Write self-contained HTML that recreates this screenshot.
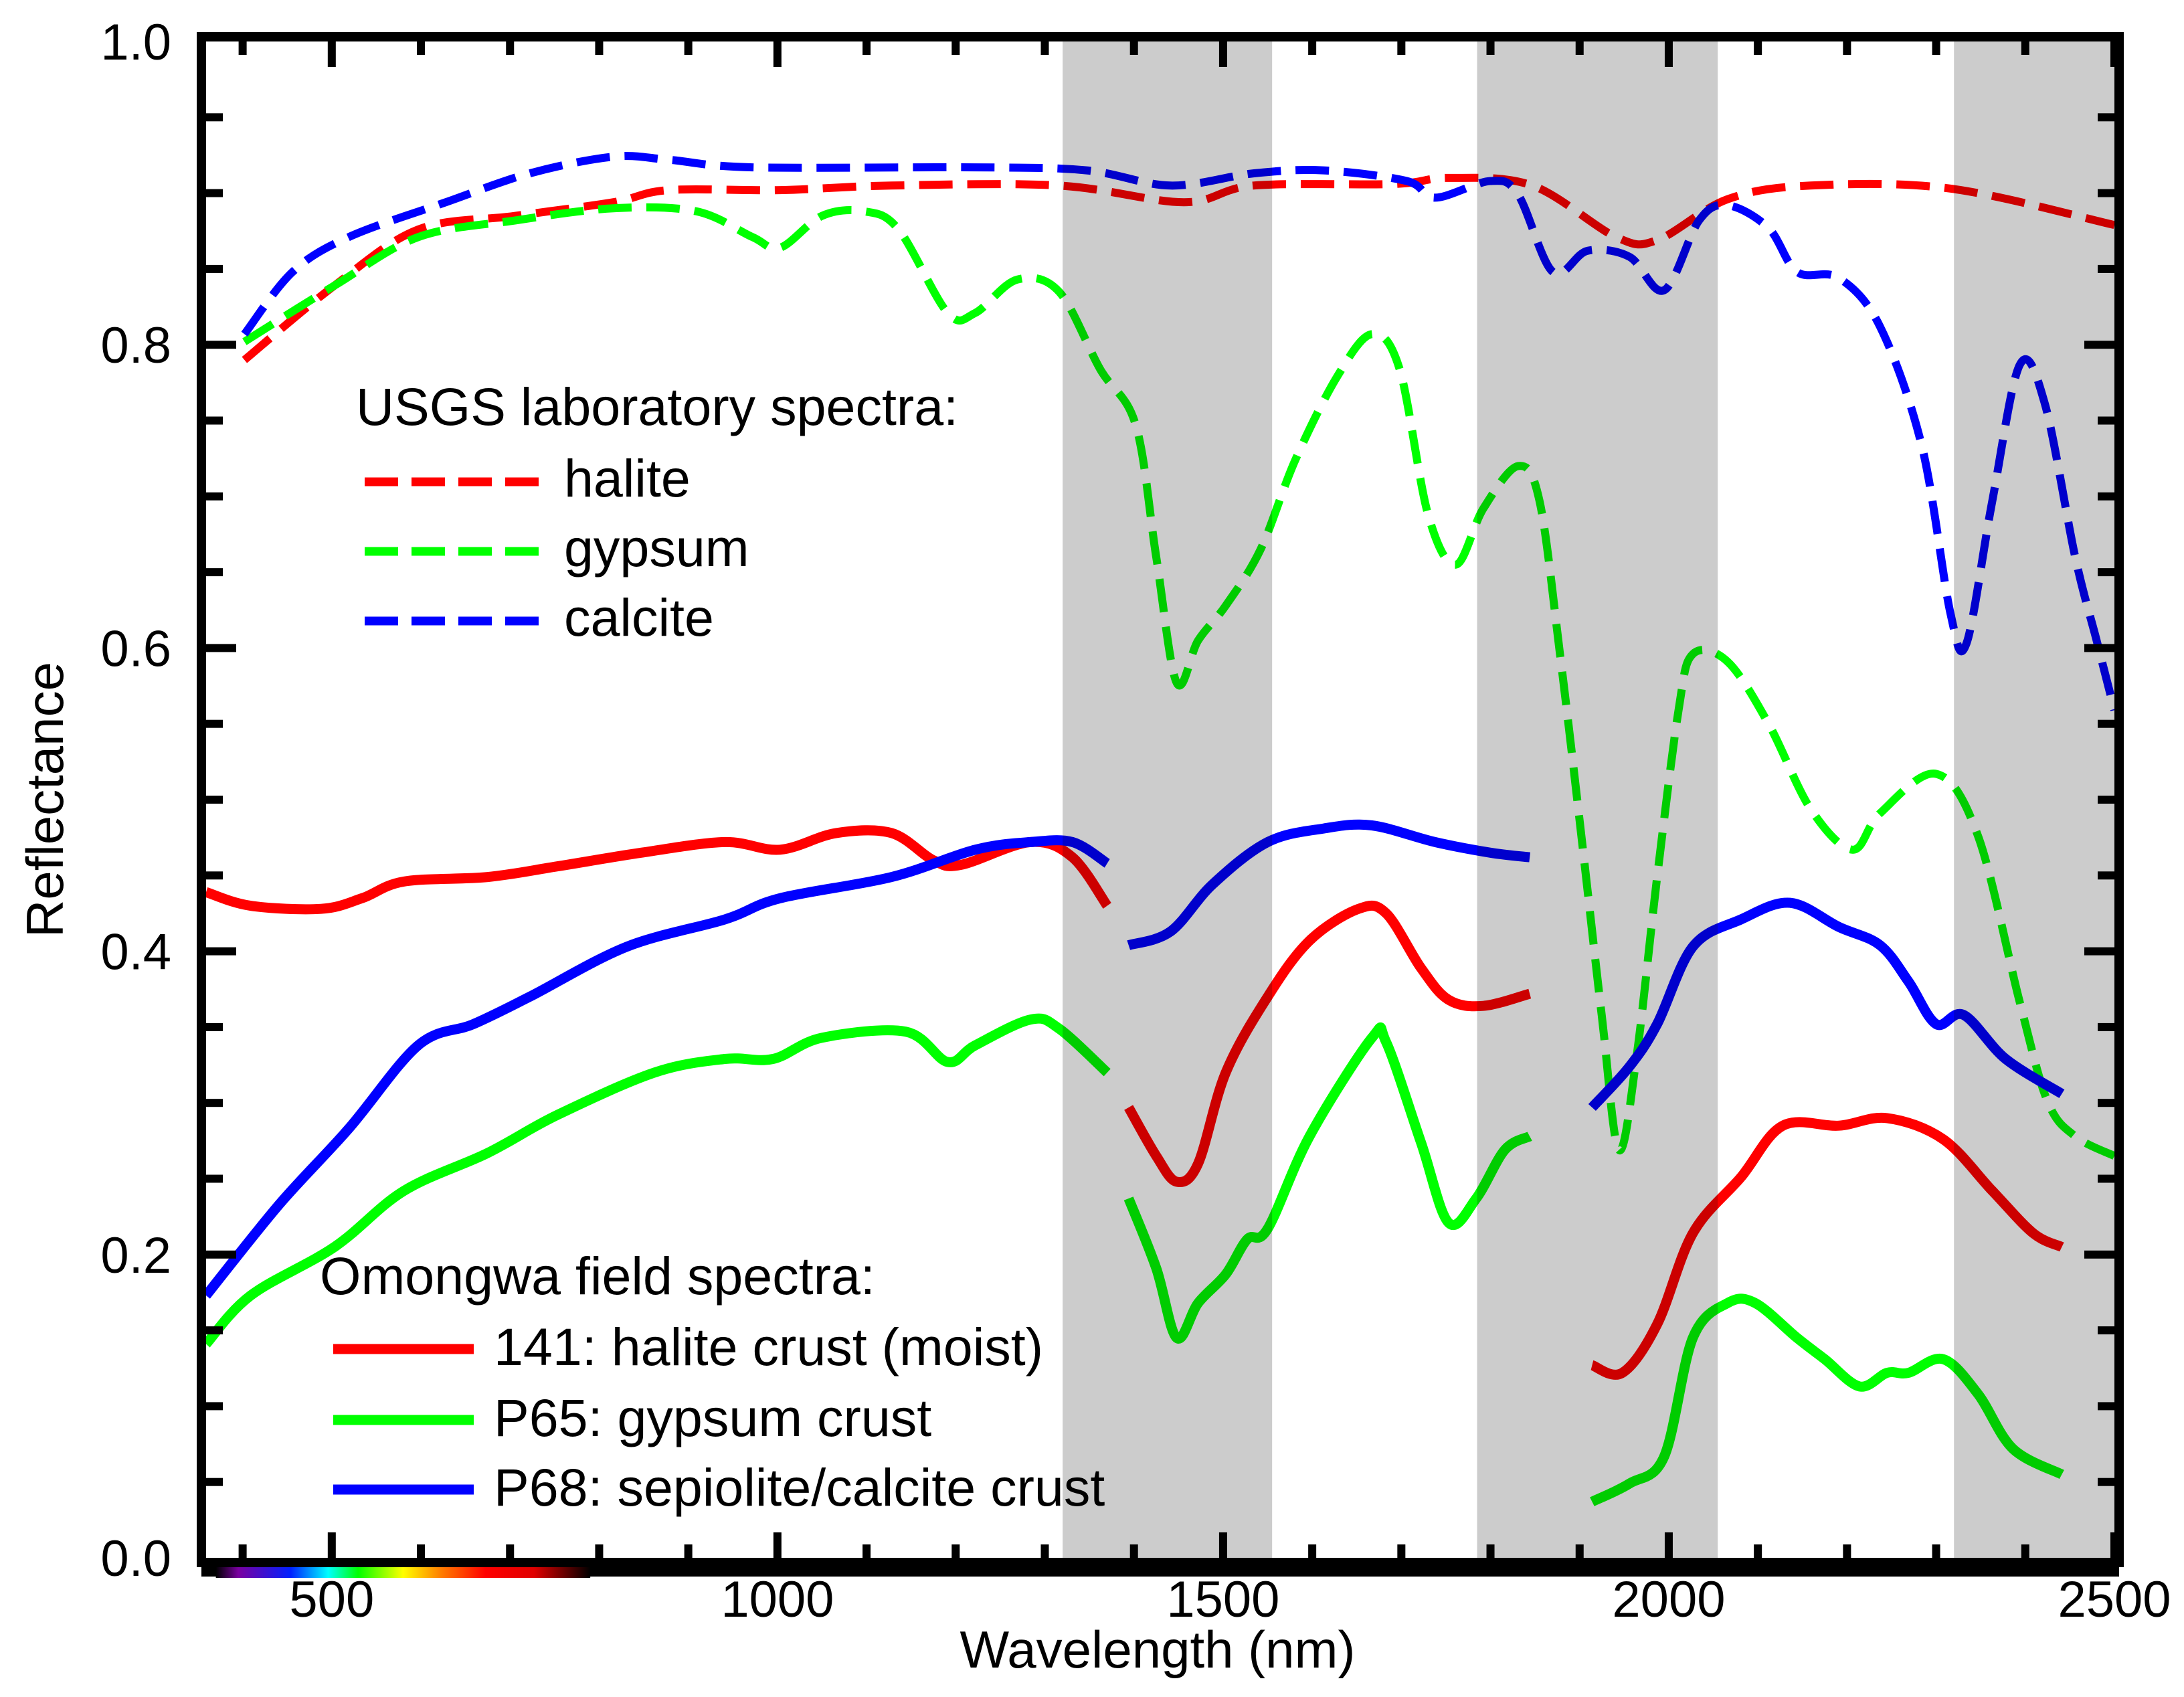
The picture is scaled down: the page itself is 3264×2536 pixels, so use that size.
<!DOCTYPE html>
<html><head><meta charset="utf-8"><style>
html,body{margin:0;padding:0;background:#fff;}
svg{display:block;}
text{font-family:"Liberation Sans",sans-serif;fill:#000;}
</style></head><body>
<svg id="chart" width="3264" height="2536" viewBox="0 0 3264 2536" xmlns="http://www.w3.org/2000/svg">
<defs>
<linearGradient id="rainbow" x1="0" x2="1" y1="0" y2="0">
<stop offset="0" stop-color="#000"/><stop offset="0.06" stop-color="#7a00a0"/><stop offset="0.2" stop-color="#0020ff"/><stop offset="0.3" stop-color="#00ffff"/><stop offset="0.38" stop-color="#00ff00"/><stop offset="0.5" stop-color="#ffff00"/><stop offset="0.6" stop-color="#ff8000"/><stop offset="0.72" stop-color="#ff0000"/><stop offset="0.85" stop-color="#e00000"/><stop offset="1" stop-color="#000"/>
</linearGradient>
</defs>
<g id="curves"></g>
<g id="bands"></g>
<g id="axes"></g>
<g id="legend">
<text x="532" y="635" font-size="79">USGS laboratory spectra:</text>
<line x1="545" y1="720" x2="805" y2="720" stroke="#ff0000" stroke-width="13" stroke-dasharray="50,20"/>
<text x="843" y="742" font-size="79">halite</text>
<line x1="545" y1="824" x2="805" y2="824" stroke="#00ff00" stroke-width="13" stroke-dasharray="50,20"/>
<text x="843" y="846" font-size="79">gypsum</text>
<line x1="545" y1="928" x2="805" y2="928" stroke="#0000ff" stroke-width="13" stroke-dasharray="50,20"/>
<text x="843" y="950" font-size="79">calcite</text>
<text x="478" y="1934" font-size="79">Omongwa field spectra:</text>
<line x1="498" y1="2016" x2="708" y2="2016" stroke="#ff0000" stroke-width="15"/>
<text x="738" y="2040" font-size="79">141: halite crust (moist)</text>
<line x1="498" y1="2122" x2="708" y2="2122" stroke="#00ff00" stroke-width="15"/>
<text x="738" y="2146" font-size="79">P65: gypsum crust</text>
<line x1="498" y1="2226" x2="708" y2="2226" stroke="#0000ff" stroke-width="15"/>
<text x="738" y="2250" font-size="79">P68: sepiolite/calcite crust</text>
</g>
</svg>
<script>
// ---- data ----
const bandStarts = [1320, 1785, 2320];
const bandEnds = [1555, 2055, 2500];
const xTickLabels = [500, 1000, 1500, 2000, 2500];
const yTickLabels = [0.0, 0.2, 0.4, 0.6, 0.8, 1.0];

const haliteLabWl = [402,503,597,706,816,878,1003,1128,1316,1456,1534,1691,1753,1847,1941,1987,2066,2159,2316,2500];
const haliteLabR = [0.79,0.839,0.876,0.885,0.894,0.902,0.902,0.905,0.905,0.894,0.905,0.906,0.91,0.905,0.871,0.869,0.896,0.905,0.903,0.879];

const calciteLabWl = [402,456,519,628,722,816,878,972,1222,1347,1441,1534,1613,1706,1738,1800,1831,1870,1909,1956,1995,2034,2066,2112,2144,2191,2237,2284,2316,2334,2363,2394,2422,2456,2480,2500];
const calciteLabR = [0.807,0.848,0.871,0.894,0.913,0.924,0.922,0.917,0.917,0.915,0.905,0.913,0.915,0.908,0.897,0.908,0.899,0.848,0.862,0.858,0.836,0.882,0.892,0.877,0.848,0.844,0.812,0.733,0.623,0.603,0.697,0.787,0.761,0.66,0.605,0.559];

const gypsumLabWl = [402,503,597,706,816,909,972,1003,1050,1097,1136,1191,1222,1269,1316,1362,1402,1425,1448,1472,1503,1542,1581,1628,1667,1698,1730,1761,1792,1831,1855,1878,1902,1925,1944,1964,1987,2011,2027,2066,2112,2159,2206,2237,2300,2347,2394,2425,2456,2500];
const gypsumLabR = [0.802,0.839,0.871,0.882,0.89,0.888,0.871,0.864,0.885,0.888,0.876,0.821,0.821,0.843,0.835,0.784,0.747,0.66,0.577,0.605,0.628,0.665,0.724,0.779,0.807,0.784,0.688,0.655,0.692,0.72,0.697,0.596,0.476,0.357,0.269,0.331,0.449,0.559,0.596,0.591,0.55,0.494,0.467,0.491,0.517,0.476,0.366,0.301,0.278,0.265];

const halite141Wl = [[359,409,488,534,581,675,753,847,941,1003,1066,1128,1175,1206,1284,1331,1370],[1394,1425,1448,1472,1503,1550,1597,1652,1683,1722,1753,1792,1844],[1914,1948,1987,2027,2081,2128,2191,2245,2308,2363,2409,2441]];
const halite141R = [[0.439,0.43,0.428,0.435,0.446,0.449,0.456,0.465,0.472,0.467,0.478,0.478,0.46,0.457,0.472,0.462,0.43],[0.297,0.265,0.248,0.26,0.32,0.37,0.407,0.428,0.425,0.389,0.368,0.364,0.372],[0.127,0.122,0.154,0.214,0.251,0.285,0.285,0.29,0.276,0.242,0.214,0.205]];

const gypsumP65Wl = [[359,409,503,581,675,753,862,941,995,1050,1144,1191,1222,1284,1316,1370],[1394,1425,1448,1472,1503,1527,1550,1597,1667,1683,1722,1753,1784,1816,1844],[1914,1956,1995,2027,2066,2097,2144,2175,2214,2245,2269,2308,2347,2386,2441]];
const gypsumP65R = [[0.141,0.173,0.205,0.242,0.267,0.292,0.32,0.329,0.329,0.343,0.347,0.327,0.338,0.355,0.349,0.32],[0.237,0.191,0.145,0.168,0.187,0.21,0.217,0.278,0.343,0.34,0.274,0.221,0.237,0.269,0.278],[0.037,0.049,0.067,0.145,0.168,0.168,0.145,0.131,0.113,0.122,0.122,0.131,0.108,0.072,0.055]];

const calciteP68Wl = [[359,441,519,597,659,722,831,941,1003,1128,1222,1284,1331,1370],[1394,1441,1488,1550,1613,1667,1738,1800,1844],[1914,1956,1987,2027,2081,2136,2191,2237,2269,2300,2331,2378,2441]];
const calciteP68R = [[0.173,0.233,0.283,0.338,0.352,0.37,0.403,0.421,0.435,0.449,0.467,0.472,0.472,0.458],[0.404,0.413,0.444,0.472,0.481,0.483,0.472,0.465,0.462],[0.297,0.324,0.352,0.403,0.421,0.432,0.416,0.404,0.38,0.352,0.358,0.329,0.306]];

// ---- axes functions ----
const L=308,R=3160,T=62,B=2328,XMIN=359,XMAX=2500;
function xs(v){return L+(v-XMIN)/(XMAX-XMIN)*(R-L);}
function ys(v){return B-v*(B-T);}
const NS='http://www.w3.org/2000/svg';
function mk(tag,attrs,parent){const e=document.createElementNS(NS,tag);for(const k in attrs)e.setAttribute(k,attrs[k]);parent.appendChild(e);return e;}
function pathFrom(wl,r){
  const p=wl.map((w,i)=>[xs(w),ys(r[i])]);
  let d='M'+p[0][0].toFixed(1)+','+p[0][1].toFixed(1);
  for(let i=0;i<p.length-1;i++){
    const p0=p[Math.max(i-1,0)],p1=p[i],p2=p[i+1],p3=p[Math.min(i+2,p.length-1)];
    const c1=[p1[0]+(p2[0]-p0[0])/6,p1[1]+(p2[1]-p0[1])/6];
    const c2=[p2[0]-(p3[0]-p1[0])/6,p2[1]-(p3[1]-p1[1])/6];
    d+=' C'+c1[0].toFixed(1)+','+c1[1].toFixed(1)+' '+c2[0].toFixed(1)+','+c2[1].toFixed(1)+' '+p2[0].toFixed(1)+','+p2[1].toFixed(1);
  }
  return d;
}
const curves=document.getElementById('curves');
function dashed(wl,r,color,name){
  const e=mk('path',{d:pathFrom(wl,r),fill:'none',stroke:color,'stroke-width':12,'stroke-dasharray':'50,22'},curves);
  
  
}
function solid(wls,rs,color,name){
  for(let s=0;s<wls.length;s++){
    const e=mk('path',{d:pathFrom(wls[s],rs[s]),fill:'none',stroke:color,'stroke-width':15,'stroke-linejoin':'round'},curves);
    
    
  }
}
dashed(haliteLabWl,haliteLabR,'#ff0000','usgs-halite-line');
dashed(gypsumLabWl,gypsumLabR,'#00ff00','usgs-gypsum-line');
dashed(calciteLabWl,calciteLabR,'#0000ff','usgs-calcite-line');
solid(halite141Wl,halite141R,'#ff0000','field-141-line');
solid(gypsumP65Wl,gypsumP65R,'#00ff00','field-p65-line');
solid(calciteP68Wl,calciteP68R,'#0000ff','field-p68-line');

const bands=document.getElementById('bands');
for(let i=0;i<bandStarts.length;i++){
  const e=mk('rect',{x:xs(bandStarts[i]),y:T,width:xs(bandEnds[i])-xs(bandStarts[i]),height:B-T,fill:'#000','fill-opacity':0.2},bands);
  
  
}

const axes=document.getElementById('axes');
for(let w=400;w<=2500;w+=100){
  const major=w%500===0, len=major?38:20, x=xs(w);
  const t1=mk('rect',{x:x-6,y:B-len,width:12,height:len,fill:'#000'},axes);
  
  
  const t2=mk('rect',{x:x-6,y:T,width:12,height:len,fill:'#000'},axes);
  
  
}
for(let k=1;k<20;k++){
  const v=k*0.05, major=k%4===0, len=major?45:25, y=ys(v);
  const t1=mk('rect',{x:L,y:y-6,width:len,height:12,fill:'#000'},axes);
  
  
  const t2=mk('rect',{x:R-len,y:y-6,width:len,height:12,fill:'#000'},axes);
  
  
}
const fr=mk('rect',{x:L-7,y:T-7,width:R-L+14,height:B-T+14,fill:'none',stroke:'#000','stroke-width':14},axes);


const bb=mk('rect',{x:L-7,y:B,width:R-L+14,height:28,fill:'#000'},axes);


const rb=mk('rect',{x:xs(370),y:B+14,width:xs(790)-xs(370),height:16,fill:'url(#rainbow)'},axes);


xTickLabels.forEach(v=>{
  const t=mk('text',{x:xs(v),y:2416,'font-size':76,'text-anchor':'middle'},axes);
  t.textContent=String(v);
  
  
});
yTickLabels.forEach(v=>{
  const t=mk('text',{x:256,y:ys(v)+27,'font-size':76,'text-anchor':'end'},axes);
  t.textContent=v.toFixed(1);
  
  
});
const xt=mk('text',{x:1730,y:2492,'font-size':78,'text-anchor':'middle'},axes);
xt.textContent='Wavelength (nm)';


const yt=mk('text',{x:0,y:0,'font-size':78,'text-anchor':'middle',transform:'translate(94,1195) rotate(-90)'},axes);
yt.textContent='Reflectance';


</script>
</body></html>
